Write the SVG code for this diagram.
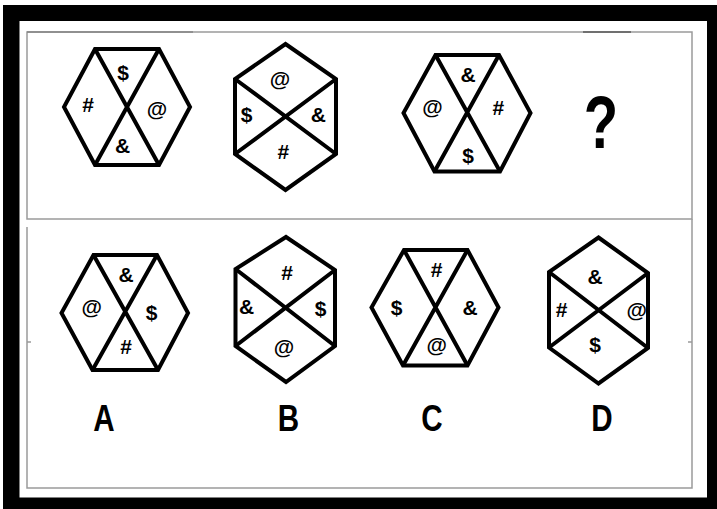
<svg xmlns="http://www.w3.org/2000/svg" width="717" height="509" viewBox="0 0 717 509">
<style>
.hex{fill:#fff;stroke:#000;stroke-width:4;stroke-linejoin:miter}
.div{stroke:#000;stroke-width:4;fill:none}
.sym{font-family:"Liberation Sans",Arial,sans-serif;font-weight:bold;font-size:21px;fill:#000;text-anchor:middle}
.lab{font-family:"Liberation Sans",Arial,sans-serif;font-weight:bold;font-size:37px;fill:#000;text-anchor:middle}
.q{font-family:"Liberation Sans",Arial,sans-serif;font-weight:bold;font-size:75px;fill:#000;text-anchor:middle}
.panel{fill:none;stroke:#9a9a9a;stroke-width:1.5}
</style>
<rect x="0" y="0" width="717" height="509" fill="#fff"/>
<rect x="3" y="5" width="714" height="504" fill="#000"/>
<rect x="19.5" y="21" width="687.5" height="476.5" fill="#fff"/>
<g id="panels">
<rect class="panel" x="27" y="32" width="665" height="187"/>
<line x1="27" y1="32" x2="193" y2="32" stroke="#858585" stroke-width="1.5"/>
<line x1="583" y1="32" x2="631" y2="32" stroke="#707070" stroke-width="2"/>
<polyline class="panel" points="27,227 27,488 692,488 692,219"/>
<line class="panel" x1="27" y1="342" x2="31" y2="342"/>
<line class="panel" x1="688" y1="342" x2="692" y2="342"/>
</g>
<g id="q1">
<polygon class="hex" points="95,49 159,49 190,107 159,165 95,165 64,107"/>
<path class="div" d="M95,49 L159,165 M159,49 L95,165"/>
<text class="sym" x="123" y="79.7">$</text>
<text class="sym" x="88" y="112.2">#</text>
<text class="sym" x="157" y="116.2">@</text>
<text class="sym" x="122.5" y="152.7">&amp;</text>
</g>
<g id="q2">
<polygon class="hex" points="285.5,44 336,79 336,154 285.5,190 235,154 235,79"/>
<path class="div" d="M235,79 L336,154 M336,79 L235,154"/>
<text class="sym" x="280" y="86.2">@</text>
<text class="sym" x="246.7" y="122.2">$</text>
<text class="sym" x="318.3" y="122.2">&amp;</text>
<text class="sym" x="283.3" y="158.7">#</text>
</g>
<g id="q3">
<polygon class="hex" points="435.5,55 499,55 530.5,113 500,171.5 434.5,171.5 403.5,113"/>
<path class="div" d="M435.5,55 L500,171.5 M499,55 L434.5,171.5"/>
<text class="sym" x="468" y="82.2">&amp;</text>
<text class="sym" x="432.5" y="114.2">@</text>
<text class="sym" x="498.3" y="115.2">#</text>
<text class="sym" x="468" y="162.7">$</text>
</g>
<g id="question">
<text class="q" transform="translate(601,148) scale(0.75,1)" x="0" y="0">?</text>
</g>
<g id="optA">
<polygon class="hex" points="93.5,255 157,255 188,313 158,370 92.5,370 61.5,313"/>
<path class="div" d="M93.5,255 L158,370 M157,255 L92.5,370"/>
<text class="sym" x="126" y="282.2">&amp;</text>
<text class="sym" x="91.7" y="313.7">@</text>
<text class="sym" x="151.7" y="320.2">$</text>
<text class="sym" x="126" y="354.2">#</text>
<text class="lab" transform="translate(104,430.5) scale(0.8,1)" x="0" y="0">A</text>
</g>
<g id="optB">
<polygon class="hex" points="286,237 335,270 335,346 286,382 235.5,346 235.5,269"/>
<path class="div" d="M235.5,269 L335,346 M335,270 L235.5,346"/>
<text class="sym" x="287" y="280.2">#</text>
<text class="sym" x="246.7" y="314.2">&amp;</text>
<text class="sym" x="320.7" y="316.2">$</text>
<text class="sym" x="284" y="353.7">@</text>
<text class="lab" transform="translate(288.5,430.5) scale(0.8,1)" x="0" y="0">B</text>
</g>
<g id="optC">
<polygon class="hex" points="404,250 467.5,250 498.5,307.5 467.5,365.5 403,365.5 371.5,307.5"/>
<path class="div" d="M404,250 L467.5,365.5 M467.5,250 L403,365.5"/>
<text class="sym" x="436.7" y="277.2">#</text>
<text class="sym" x="396.7" y="314.5">$</text>
<text class="sym" x="470" y="315.2">&amp;</text>
<text class="sym" x="436.7" y="352.4">@</text>
<text class="lab" transform="translate(432,431) scale(0.8,1)" x="0" y="0">C</text>
</g>
<g id="optD">
<polygon class="hex" points="598.5,237.5 648,273 648,348 598.5,383.5 549,347.5 549,272"/>
<path class="div" d="M549,272 L648,348 M648,273 L549,347.5"/>
<text class="sym" x="595" y="283.9">&amp;</text>
<text class="sym" x="561.7" y="316.5">#</text>
<text class="sym" x="636.7" y="317.4">@</text>
<text class="sym" x="595" y="352.2">$</text>
<text class="lab" transform="translate(602,431) scale(0.8,1)" x="0" y="0">D</text>
</g>
</svg>
